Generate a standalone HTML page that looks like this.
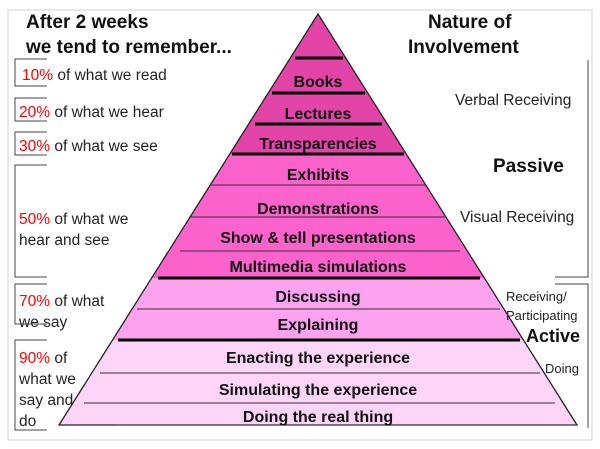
<!DOCTYPE html>
<html><head><style>body{margin:0;background:#fff}svg{display:block}</style></head><body>
<svg width="600" height="449" viewBox="0 0 600 449" font-family="Liberation Sans, Arial, sans-serif">
<rect x="8" y="10" width="584" height="430" fill="#fff" stroke="#d0d0d0"/>
<polygon points="318,14 406,154 230,154" fill="#e244a8"/>
<polygon points="230,154 406,154 484,278 152,278" fill="#fc62cc"/>
<polygon points="152,278 484,278 523,340 113,340" fill="#fca2ee"/>
<polygon points="113,340 523,340 577,425 59,425" fill="#fed4f8"/>
<polygon points="318,14 577,425 59,425" fill="none" stroke="#222" stroke-width="1.3"/>
<g stroke="#000" stroke-width="3">
<line x1="295" y1="58" x2="343" y2="58"/>
<line x1="272" y1="93" x2="365" y2="93"/>
<line x1="255" y1="124" x2="382" y2="124"/>
<line x1="232" y1="154" x2="404" y2="154"/>
<line x1="158" y1="278" x2="480" y2="278"/>
<line x1="118" y1="340" x2="520" y2="340"/>
</g>
<g stroke="#333" stroke-width="1">
<line x1="210" y1="185" x2="426" y2="185"/>
<line x1="190" y1="217" x2="446" y2="217"/>
<line x1="180" y1="251" x2="460" y2="251"/>
<line x1="137" y1="309" x2="500" y2="309"/>
<line x1="100" y1="373" x2="540" y2="373"/>
<line x1="84" y1="403" x2="555" y2="403"/>
<line x1="115" y1="425" x2="578" y2="425"/>
</g>
<g font-weight="bold" font-size="16" text-anchor="middle" fill="#111">
<text x="318" y="87">Books</text>
<text x="318" y="119">Lectures</text>
<text x="318" y="149">Transparencies</text>
<text x="318" y="180">Exhibits</text>
<text x="318" y="214">Demonstrations</text>
<text x="318" y="243">Show &amp; tell presentations</text>
<text x="318" y="272">Multimedia simulations</text>
<text x="318" y="302">Discussing</text>
<text x="318" y="330">Explaining</text>
<text x="318" y="363">Enacting the experience</text>
<text x="318" y="395">Simulating the experience</text>
<text x="318" y="422">Doing the real thing</text>
</g>
<g font-weight="bold" font-size="19" fill="#111">
<text x="26" y="28">After 2 weeks</text>
<text x="26" y="53">we tend to remember...</text>
<text x="428" y="28">Nature of</text>
<text x="408" y="53">Involvement</text>
<text x="493" y="172">Passive</text>
<text x="526" y="342" font-size="18">Active</text>
</g>
<g font-size="15.5" fill="#222">
<text x="455" y="105">Verbal Receiving</text>
<text x="460" y="222">Visual Receiving</text>
<text x="506" y="301" font-size="13">Receiving/</text>
<text x="506" y="320" font-size="13">Participating</text>
<text x="545" y="373" font-size="13">Doing</text>
<text x="22" y="80"><tspan fill="#f00">10%</tspan> of what we read</text>
<text x="19" y="117"><tspan fill="#f00">20%</tspan> of what we hear</text>
<text x="19" y="151"><tspan fill="#f00">30%</tspan> of what we see</text>
<text x="19" y="224"><tspan fill="#f00">50%</tspan> of what we</text>
<text x="19" y="245">hear and see</text>
<text x="19" y="306"><tspan fill="#f00">70%</tspan> of what</text>
<text x="19" y="327">we say</text>
<text x="19" y="363"><tspan fill="#f00">90%</tspan> of</text>
<text x="19" y="384">what we</text>
<text x="19" y="405">say and</text>
<text x="19" y="426">do</text>
</g>
<g stroke="#444" fill="none" stroke-width="1">
<polyline points="47,59 15,59 15,86 47,86"/>
<polyline points="47,98 15,98 15,121 47,121"/>
<polyline points="47,132 15,132 15,155 47,155"/>
<polyline points="47,165 15,165 15,277 47,277"/>
<polyline points="47,284 15,284 15,324 47,324"/>
<polyline points="47,340 15,340 15,430 47,430"/>
<polyline points="588,60 588,277 555,277"/>
<polyline points="555,284 588,284 588,428"/>
</g>
</svg>
</body></html>
